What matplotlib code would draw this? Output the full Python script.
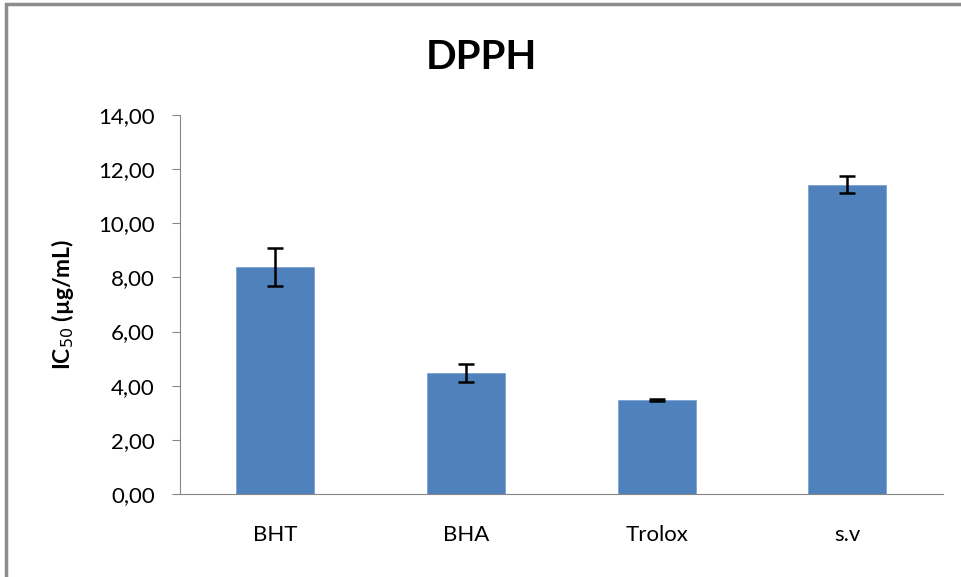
import numpy as np
import matplotlib.pyplot as plt
from matplotlib.patches import Rectangle

categories = ['BHT', 'BHA', 'Trolox', 's.v']
ic50 = [8.40, 4.48, 3.48, 11.43]
err = [0.70, 0.33, 0.03, 0.30]
yticks = [0, 2, 4, 6, 8, 10, 12, 14]

plt.rcParams['font.family'] = ['Lato', 'DejaVu Sans']

fig = plt.figure(figsize=(9.62, 5.77), dpi=100)
ax = fig.add_axes([0.187, 0.1438, 0.793, 0.6569])

# outer chart frame (clipped at right/bottom like the reference)
fig.patches.append(Rectangle((0.006, -0.1), 1.2, 1.093, transform=fig.transFigure,
                             fill=False, edgecolor='#8c8c8c', linewidth=2.5))

x = np.arange(len(categories))
ax.bar(x, ic50, width=0.41, color='#4F81BD', edgecolor='#7ea3d1', linewidth=0.6, zorder=2)
ax.errorbar(x, ic50, yerr=err, fmt='none', ecolor='black', elinewidth=1.8,
            capsize=6, capthick=1.8, zorder=3)

ax.set_xlim(-0.5, 3.5)
ax.set_ylim(0, 14)
ax.set_yticks(yticks)
ax.set_yticklabels([('%.2f' % v).replace('.', ',') for v in yticks])
ax.set_xticks(x)
ax.set_xticklabels(categories)

for s in ['top', 'right']:
    ax.spines[s].set_visible(False)
ax.spines['left'].set_color('#868686')
ax.spines['bottom'].set_color('#868686')
ax.tick_params(axis='y', direction='out', length=6, color='#868686', labelsize=16, pad=12)
ax.tick_params(axis='x', length=0, labelsize=16, pad=22)

ax.set_ylabel('IC$_{50}$ (µg/mL)', fontsize=16.5, fontweight='bold')
ax.yaxis.set_label_coords(-0.136, 0.5)
fig.text(0.5, 0.9, 'DPPH', ha='center', va='center', fontsize=29, fontweight='bold')

plt.savefig('out.png', dpi=100)
